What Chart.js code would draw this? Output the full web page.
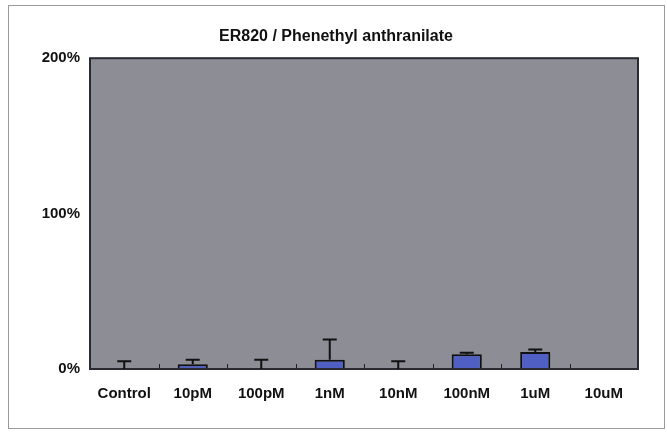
<!DOCTYPE html>
<html>
<head>
<meta charset="utf-8">
<script src="https://cdn.jsdelivr.net/npm/chart.js@4"></script>
<style>
  html, body { margin: 0; padding: 0; background: #fff; }
  #wrap { position: relative; width: 667px; height: 432px; }
</style>
</head>
<body>
<div id="wrap"><canvas id="chart" width="667" height="432"></canvas></div>
<script>
// values (percent of control)
const categories = ["Control", "10pM", "100pM", "1nM", "10nM", "100nM", "1uM", "10uM"];
const means = [0, 3, 0, 6, 0, 9.5, 11, 0];
const errors = [5, 3, 6, 13, 5, 1, 1.5, 0];
const yTicks = [0, 100, 200];

const FONT = "'Liberation Sans', Arial, sans-serif";

// gray plot background + frame around the whole picture
const backdrop = {
    id: "backdrop",
    beforeDraw(chart) {
        const ctx = chart.ctx;
        const a = chart.chartArea;
        ctx.save();
        ctx.strokeStyle = "#9a9a9a";
        ctx.lineWidth = 1;
        ctx.strokeRect(8.5, 5.5, 656, 423);
        ctx.fillStyle = "#8c8d95";
        ctx.fillRect(a.left, a.top, a.right - a.left, a.bottom - a.top);
        ctx.restore();
    },
    afterDatasetsDraw(chart) {
        const ctx = chart.ctx;
        const a = chart.chartArea;
        const x = chart.scales.x;
        ctx.save();
        // small inward ticks on the category axis
        ctx.strokeStyle = "#222";
        ctx.lineWidth = 1;
        const step = (a.right - a.left) / categories.length;
        for (let i = 1; i < categories.length; i++) {
            const px = Math.round(x.getPixelForValue(i) - step / 2) + 0.5;
            ctx.beginPath();
            ctx.moveTo(px, a.bottom);
            ctx.lineTo(px, a.bottom - 5);
            ctx.stroke();
        }
        ctx.strokeStyle = "#2a2a33";
        ctx.lineWidth = 2;
        ctx.strokeRect(a.left, a.top, a.right - a.left, a.bottom - a.top);
        ctx.restore();
    }
};

// upper error bars only
const errorBars = {
    id: "errorBars",
    afterDatasetsDraw(chart) {
        const ctx = chart.ctx;
        const y = chart.scales.y;
        const meta = chart.getDatasetMeta(0);
        ctx.save();
        ctx.strokeStyle = "#111";
        ctx.lineWidth = 2;
        meta.data.forEach((el, i) => {
            if (!errors[i]) return;
            const yBase = y.getPixelForValue(means[i]);
            const yTop = y.getPixelForValue(means[i] + errors[i]);
            ctx.beginPath();
            ctx.moveTo(el.x, yBase);
            ctx.lineTo(el.x, yTop);
            ctx.moveTo(el.x - 7, yTop);
            ctx.lineTo(el.x + 7, yTop);
            ctx.stroke();
        });
        ctx.restore();
    }
};

new Chart(document.getElementById("chart"), {
    type: "bar",
    data: {
        labels: categories,
        datasets: [{
            data: means,
            backgroundColor: "#4f5fc4",
            borderColor: "#111",
            borderWidth: ctx => (means[ctx.dataIndex] ? 2 : 0),
            borderSkipped: "bottom",
            barPercentage: 0.44,
            categoryPercentage: 1
        }]
    },
    options: {
        responsive: false,
        animation: false,
        layout: { padding: { left: 34, right: 29, top: 0, bottom: 0 } },
        plugins: {
            legend: { display: false },
            tooltip: { enabled: false },
            title: {
                display: true,
                text: "ER820 / Phenethyl anthranilate",
                color: "#111",
                font: { family: FONT, size: 16, weight: "bold" },
                padding: { top: 27, bottom: 12 }
            }
        },
        scales: {
            x: {
                grid: { display: false, drawTicks: false },
                border: { display: false },
                ticks: {
                    color: "#111",
                    padding: 16,
                    font: { family: FONT, size: 15, weight: "bold" }
                },
                afterFit: s => { s.height = 63; }
            },
            y: {
                min: 0,
                max: 200,
                grid: { display: false, drawTicks: false },
                border: { display: false },
                afterBuildTicks: s => { s.ticks = yTicks.map(v => ({ value: v })); },
                ticks: {
                    color: "#111",
                    padding: 10,
                    font: { family: FONT, size: 15, weight: "bold" },
                    callback: v => v + "%"
                },
                afterFit: s => { s.width = 56; }
            }
        }
    },
    plugins: [backdrop, errorBars]
});
</script>
</body>
</html>
